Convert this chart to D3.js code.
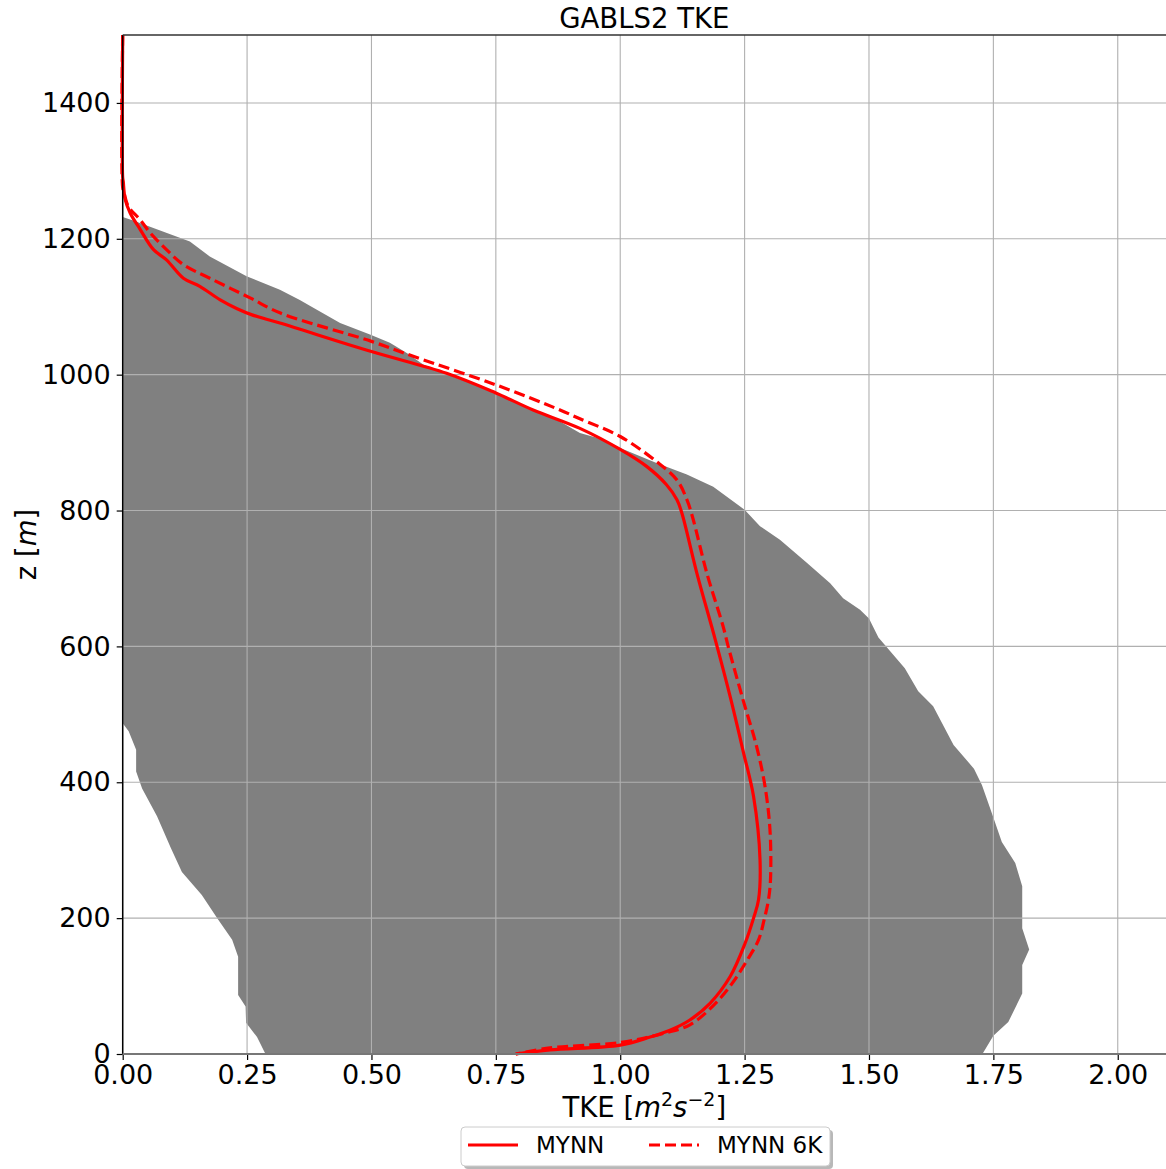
<!DOCTYPE html>
<html>
<head>
<meta charset="utf-8">
<script src="https://cdn.jsdelivr.net/npm/d3@7"></script>
<style>
  body { margin: 0; background: #fff; }
  text { font-family: "DejaVu Sans", sans-serif; }
</style>
</head>
<body>
<div id="chart"></div>
<script>
// MYNN profile, TKE (m2 s-2) against height z (m)
var mynnTke = [0, 0, 0.001, 0.005, 0.015, 0.035, 0.062, 0.088, 0.122, 0.155, 0.196, 0.23, 0.26, 0.316, 0.5, 0.651, 0.75, 0.825, 0.919, 1.0, 1.053, 1.093, 1.114, 1.124, 1.154, 1.191, 1.221, 1.248, 1.268, 1.281, 1.278, 1.268, 1.251, 1.221, 1.181, 1.14, 1.1, 1.06, 1.0, 0.859, 0.79];
var mynnZ   = [1500, 1290, 1285, 1258, 1238, 1214, 1184, 1169, 1142, 1130, 1110, 1097, 1088, 1076, 1034, 1002, 973, 948, 921, 890, 865, 838, 816, 796, 708, 610, 526, 443, 379, 286, 227, 200, 163, 114, 75, 50, 35, 25, 13, 6, 0];

// MYNN 6K profile
var mynn6kTke = [0, 0, 0.003, 0.011, 0.035, 0.055, 0.088, 0.122, 0.175, 0.256, 0.316, 0.5, 0.584, 0.75, 0.879, 0.919, 1.0, 1.073, 1.114, 1.134, 1.147, 1.174, 1.207, 1.217, 1.247, 1.274, 1.291, 1.301, 1.302, 1.298, 1.29, 1.278, 1.255, 1.225, 1.188, 1.14, 1.09, 1.0, 0.859, 0.79];
var mynn6kZ   = [1500, 1275, 1267, 1248, 1228, 1209, 1184, 1162, 1142, 1113, 1091, 1049, 1027, 985, 948, 935, 909, 872, 845, 816, 786, 708, 629, 600, 521, 453, 394, 330, 256, 227, 200, 168, 138, 104, 72, 43, 31, 17, 9, 0];

// LES spread: upper (right) edge, from top down
var lesMaxTke = [0, 0.021, 0.135, 0.175, 0.249, 0.316, 0.356, 0.377, 0.437, 0.497, 0.537, 0.571, 0.604, 0.665, 0.752, 0.825, 0.879, 0.919, 0.953, 1.0, 1.073, 1.134, 1.187, 1.25, 1.281, 1.321, 1.375, 1.422, 1.448, 1.482, 1.5, 1.519, 1.572, 1.599, 1.629, 1.67, 1.711, 1.727, 1.75, 1.767, 1.794, 1.808, 1.808, 1.822, 1.808, 1.808, 1.78, 1.75, 1.728];
var lesMaxZ   = [1232, 1227, 1196, 1174, 1145, 1125, 1110, 1101, 1076, 1059, 1047, 1032, 1015, 997, 973, 948, 931, 914, 907, 892, 870, 853, 835, 801, 777, 757, 723, 693, 671, 654, 641, 613, 568, 534, 512, 455, 420, 396, 348, 312, 281, 247, 185, 154, 131, 89, 47, 27, 0];
// lower (left) edge, from bottom up
var lesMinTke = [0.287, 0.27, 0.248, 0.247, 0.232, 0.232, 0.22, 0.19, 0.159, 0.119, 0.097, 0.069, 0.039, 0.027, 0.027, 0.012, 0, 0];
var lesMinZ   = [0, 25, 46, 70, 87, 143, 168, 200, 234, 268, 303, 350, 391, 416, 448, 475, 487, 1232];

var xTicks = [0, 0.25, 0.5, 0.75, 1.0, 1.25, 1.5, 1.75, 2.0];
var yTicks = [0, 200, 400, 600, 800, 1000, 1200, 1400];
var seriesNames = ["MYNN", "MYNN 6K"];

function init()
{
    var w = 1166, h = 1169;
    var pLeft = 122.7, pRight = 1167.5, pTop = 35, pBottom = 1054;

    var svg = d3.select("#chart").append("svg")
        .attr("width", w)
        .attr("height", h);

    var x = d3.scaleLinear().domain([0, 2.1]).range([pLeft, pRight]);
    var y = d3.scaleLinear().domain([0, 1500]).range([pBottom, pTop]);

    function pairs(xs, zs) {
        return xs.map(function(v, i) { return [v, zs[i]]; });
    }

    var line = d3.line()
        .x(function(d) { return x(d[0]); })
        .y(function(d) { return y(d[1]); });

    // profiles are smooth in the original
    var smooth = d3.line()
        .x(function(d) { return x(d[0]); })
        .y(function(d) { return y(d[1]); })
        .curve(d3.curveCatmullRom.alpha(0.5));

    // gray LES range
    var band = pairs(lesMaxTke, lesMaxZ).concat(pairs(lesMinTke, lesMinZ));
    svg.append("path")
        .attr("d", line(band) + "Z")
        .attr("fill", "#808080");

    // grid
    svg.append("g").selectAll("line").data(xTicks).enter().append("line")
        .attr("x1", function(d) { return x(d); })
        .attr("x2", function(d) { return x(d); })
        .attr("y1", pTop).attr("y2", pBottom)
        .attr("stroke", "#b0b0b0").attr("stroke-width", 1.1);
    svg.append("g").selectAll("line").data(yTicks).enter().append("line")
        .attr("x1", pLeft).attr("x2", pRight)
        .attr("y1", function(d) { return y(d); })
        .attr("y2", function(d) { return y(d); })
        .attr("stroke", "#b0b0b0").attr("stroke-width", 1.1);

    // profiles
    svg.append("path")
        .attr("d", smooth(pairs(mynnTke, mynnZ)))
        .attr("fill", "none").attr("stroke", "#ff0000")
        .attr("stroke-width", 3.2).attr("stroke-linejoin", "round");
    svg.append("path")
        .attr("d", smooth(pairs(mynn6kTke, mynn6kZ)))
        .attr("fill", "none").attr("stroke", "#ff0000")
        .attr("stroke-width", 3.2).attr("stroke-dasharray", "11,5");

    // axes
    var xAxis = d3.axisBottom(x).tickValues(xTicks).tickSize(6).tickPadding(5)
        .tickFormat(d3.format(".2f"));
    var yAxis = d3.axisLeft(y).tickValues(yTicks).tickSize(6).tickPadding(6)
        .tickFormat(d3.format("d"));

    var gx = svg.append("g")
        .attr("transform", "translate(0," + pBottom + ")")
        .call(xAxis);
    var gy = svg.append("g")
        .attr("transform", "translate(" + pLeft + ",0)")
        .call(yAxis);
    [gx, gy].forEach(function(g) {
        g.select(".domain").remove();
        g.selectAll("text").attr("font-size", 27).attr("fill", "#000")
            .attr("font-family", "DejaVu Sans, sans-serif");
        g.selectAll(".tick line").attr("stroke", "#000").attr("stroke-width", 1.2);
    });

    // spines
    svg.append("line").attr("x1", pLeft).attr("x2", pLeft).attr("y1", pTop).attr("y2", pBottom)
        .attr("stroke", "#000").attr("stroke-width", 1.5);
    svg.append("line").attr("x1", pLeft).attr("x2", pRight).attr("y1", pTop).attr("y2", pTop)
        .attr("stroke", "#333").attr("stroke-width", 1.5);
    svg.append("line").attr("x1", pLeft).attr("x2", pRight).attr("y1", pBottom).attr("y2", pBottom)
        .attr("stroke", "#777").attr("stroke-width", 1.8);

    // title and labels
    svg.append("text")
        .attr("x", (pLeft + 1166) / 2).attr("y", 28)
        .attr("text-anchor", "middle").attr("font-size", 27.5)
        .text("GABLS2 TKE");

    var xl = svg.append("text")
        .attr("x", (pLeft + 1166) / 2).attr("y", 1117)
        .attr("text-anchor", "middle").attr("font-size", 27.5);
    xl.append("tspan").text("TKE [");
    xl.append("tspan").attr("font-style", "italic").text("m");
    xl.append("tspan").attr("font-size", 19).attr("dy", -11).text("2");
    xl.append("tspan").attr("font-style", "italic").attr("dy", 11).text("s");
    xl.append("tspan").attr("font-size", 19).attr("dy", -11).text("\u22122");
    xl.append("tspan").attr("dy", 11).text("]");

    var yl = svg.append("text")
        .attr("transform", "translate(36," + ((pTop + pBottom) / 2) + ") rotate(-90)")
        .attr("text-anchor", "middle").attr("font-size", 27.5);
    yl.append("tspan").text("z [");
    yl.append("tspan").attr("font-style", "italic").text("m");
    yl.append("tspan").text("]");

    // legend
    var lg = svg.append("g").attr("transform", "translate(461,1127)");
    lg.append("rect").attr("x", 3).attr("y", 3).attr("width", 369).attr("height", 39)
        .attr("rx", 4).attr("fill", "#888").attr("opacity", 0.6);
    lg.append("rect").attr("x", 0).attr("y", 0).attr("width", 369).attr("height", 39)
        .attr("rx", 4).attr("fill", "#fff").attr("stroke", "#cccccc").attr("stroke-width", 1);
    var entries = lg.selectAll("g.entry").data(seriesNames).enter().append("g")
        .attr("transform", function(d, i) { return "translate(" + (i === 0 ? 7 : 188) + ",0)"; });
    entries.append("line")
        .attr("x1", 0).attr("x2", 50).attr("y1", 18).attr("y2", 18)
        .attr("stroke", "#ff0000").attr("stroke-width", 3.2)
        .attr("stroke-dasharray", function(d, i) { return i === 0 ? null : "11,5"; });
    entries.append("text")
        .attr("x", 68).attr("y", 26).attr("font-size", 23)
        .text(function(d) { return d; });
}

window.onload = init;
</script>
</body>
</html>
